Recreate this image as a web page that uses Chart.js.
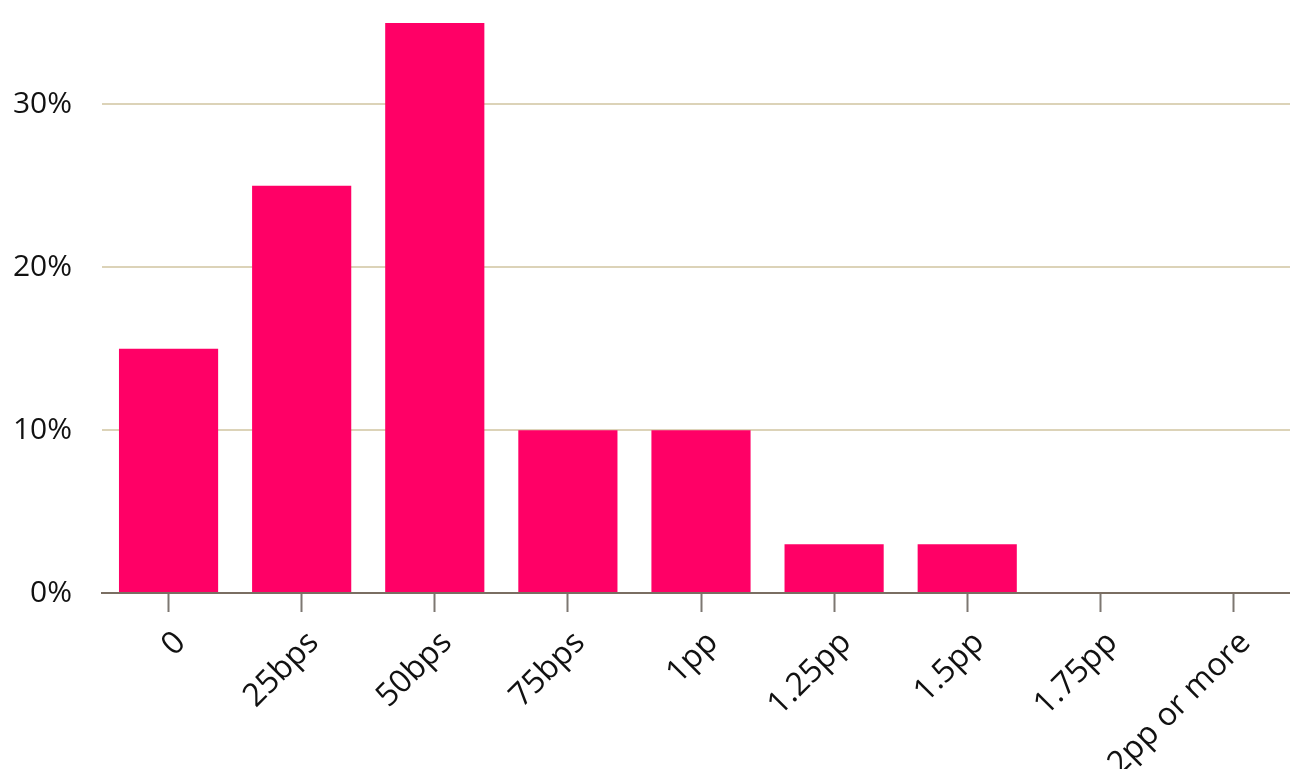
<!DOCTYPE html>
<html>
<head>
<meta charset="utf-8">
<script src="https://cdn.jsdelivr.net/npm/chart.js@4/dist/chart.umd.min.js"></script>
<style>
    html, body { margin: 0; padding: 0; background: #ffffff; overflow: hidden; }
    #wrap { position: relative; width: 1300px; height: 769px; }
</style>
</head>
<body>
<div id="wrap"><canvas id="rateChart"></canvas></div>
<script>
const categories = ["0", "25bps", "50bps", "75bps", "1pp", "1.25pp", "1.5pp", "1.75pp", "2pp or more"];
const shares = [15, 25, 35, 10, 10, 3, 3, 0, 0];
const yTicks = [0, 10, 20, 30];

const FONT = "'Open Sans', 'DejaVu Sans', sans-serif";
const BAR_COLOR = "#ff0066";
const GRID_COLOR = "#dcd3b8";
const AXIS_COLOR = "#7a6e62";

const ctx = document.getElementById("rateChart");

new Chart(ctx, {
    type: "bar",
    data: {
        labels: categories,
        datasets: [{
            data: shares,
            backgroundColor: BAR_COLOR,
            borderWidth: 0,
            barPercentage: 0.745,
            categoryPercentage: 1
        }]
    },
    options: {
        responsive: true,
        maintainAspectRatio: false,
        animation: false,
        layout: { padding: { top: 23, right: 0, bottom: 0, left: 0 } },
        plugins: {
            legend: { display: false },
            tooltip: { enabled: false }
        },
        scales: {
            x: {
                grid: {
                    offset: false,
                    drawOnChartArea: false,
                    drawTicks: true,
                    tickLength: 19,
                    tickWidth: 2,
                    tickColor: "#7d7771"
                },
                border: { display: true, color: AXIS_COLOR, width: 2 },
                ticks: {
                    color: "#111111",
                    font: { family: FONT, size: 32 },
                    minRotation: 45,
                    maxRotation: 45,
                    padding: 12,
                    labelOffset: 12,
                    autoSkip: false
                },
                afterFit: scale => {
                    scale.height = 176;
                    scale.paddingLeft = 0;
                    scale.paddingRight = 0;
                }
            },
            y: {
                min: 0,
                max: 35,
                afterBuildTicks: scale => {
                    scale.ticks = yTicks.map(v => ({ value: v }));
                },
                grid: {
                    drawTicks: false,
                    lineWidth: 2,
                    color: c => c.tick && c.tick.value === 0 ? AXIS_COLOR : GRID_COLOR
                },
                border: { display: false },
                ticks: {
                    color: "#111111",
                    font: { family: FONT, size: 30 },
                    padding: 30,
                    callback: v => v + "%"
                },
                afterFit: scale => {
                    scale.width = 102;
                    scale.paddingTop = 0;
                    scale.paddingBottom = 0;
                }
            }
        }
    }
});
</script>
</body>
</html>
